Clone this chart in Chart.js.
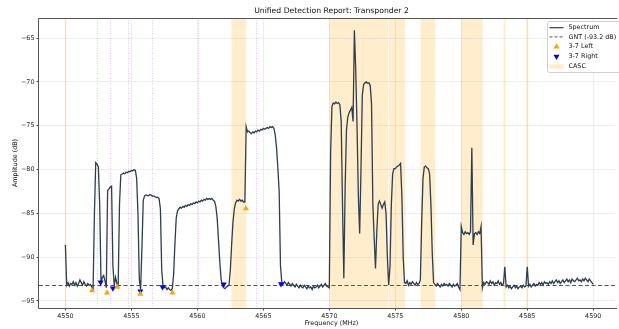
<!DOCTYPE html>
<html>
<head>
<meta charset="utf-8">
<script src="https://cdn.jsdelivr.net/npm/chart.js@4.4.1/dist/chart.umd.min.js"></script>
<style>
  html, body { margin: 0; padding: 0; background: #fff; }
  #wrap { width: 619px; height: 329px; }
</style>
</head>
<body>
<div id="wrap"><canvas id="spectrumChart" width="619" height="329"></canvas></div>
<script>
// spectrum, one sample every 0.1 MHz starting at 4550.0 MHz
const freqStartMHz = 4550.0;
const freqStepMHz = 0.1;
const amplitudeDb = [
  -88.6, -93.2, -92.9, -93.3, -93.0, -93.1, -92.8, -93.2, -92.9, -93.3,
  -93.0, -92.6, -92.9, -93.2, -92.8, -93.1, -93.3, -93.0, -93.2, -93.1,
  -93.4, -93.7, -85.0, -79.2, -79.4, -79.7, -84.0, -92.9, -92.3, -92.1,
  -92.7, -93.5, -82.4, -82.2, -82.0, -81.9, -91.0, -93.2, -92.3, -93.0,
  -93.3, -84.0, -80.6, -80.5, -80.4, -80.5, -80.3, -80.35, -80.2, -80.25,
  -80.1, -80.15, -80.0, -80.1, -81.0, -85.0, -92.5, -93.7, -89.0, -83.5,
  -83.0, -82.9, -82.95, -83.0, -82.85, -82.9, -83.05, -83.0, -83.1, -83.2,
  -83.15, -83.3, -84.5, -91.5, -93.3, -93.5, -93.4, -93.7, -93.5, -93.7,
  -93.8, -93.6, -92.0, -88.5, -85.5, -84.7, -84.5, -84.3, -84.4, -84.2,
  -84.3, -84.1, -84.2, -84.0, -84.1, -83.9, -84.0, -83.8, -83.9, -83.7,
  -83.8, -83.6, -83.7, -83.5, -83.6, -83.4, -83.5, -83.3, -83.4, -83.3,
  -83.4, -83.3, -83.5, -83.6, -84.2, -85.5, -88.0, -90.5, -92.5, -93.3,
  -93.5, -93.6, -93.4, -93.3, -93.2, -91.5, -88.5, -86.0, -84.5, -83.8,
  -83.5, -83.6, -83.4, -83.6, -83.5, -83.7, -83.7, -75.1, -75.7, -75.6,
  -75.8, -75.9, -75.7, -75.8, -75.6, -75.7, -75.5, -75.6, -75.4, -75.5,
  -75.3, -75.4, -75.3, -75.2, -75.3, -75.1, -75.2, -75.1, -75.3, -76.0,
  -77.5, -79.8, -82.5, -91.0, -92.9, -93.1, -92.8, -93.0, -93.2, -92.9,
  -93.1, -93.3, -93.0, -93.2, -93.4, -93.1, -93.3, -93.5, -93.2, -93.4,
  -93.5, -93.2, -93.4, -93.6, -93.3, -93.5, -93.4, -93.7, -93.3, -93.5,
  -93.4, -93.2, -93.5, -93.3, -93.1, -93.4, -93.2, -93.0, -93.3, -93.4,
  -93.5, -78.0, -72.8, -72.4, -72.5, -72.3, -72.45, -72.35, -72.6, -74.5,
  -84.0, -92.4, -82.0, -75.5, -74.0, -73.5, -73.2, -72.9, -74.5, -64.1,
  -68.5, -75.0, -83.0, -87.3, -80.0, -71.5, -70.3, -70.1, -70.0, -70.15,
  -70.1, -70.4, -72.5, -84.0, -87.8, -91.3, -87.0, -84.0, -83.6, -84.0,
  -84.4, -84.0, -83.7, -85.0, -90.0, -93.2, -91.0, -84.0, -80.5, -79.9,
  -79.9, -79.7, -79.6, -79.5, -79.3, -83.0, -90.0, -92.9, -93.0, -92.7,
  -93.2, -92.9, -93.1, -92.8, -93.0, -93.2, -92.9, -93.1, -93.0, -92.6,
  -86.0, -81.0, -79.7, -79.6, -79.8, -79.9, -80.5, -84.0, -89.5, -92.9,
  -93.1, -93.3, -93.0, -93.2, -93.4, -93.1, -93.3, -93.0, -93.2, -93.1,
  -93.3, -93.0, -93.2, -93.4, -93.1, -93.3, -93.2, -93.0, -93.4, -93.7,
  -86.5, -87.2, -87.4, -87.1, -87.3, -87.2, -87.4, -87.1, -77.5, -88.6,
  -87.3, -87.2, -87.4, -87.1, -87.3, -86.5, -93.5, -92.9, -93.1, -92.8,
  -92.9, -93.1, -92.7, -93.0, -92.8, -93.2, -92.9, -93.0, -92.7, -93.1,
  -92.9, -93.2, -93.0, -91.1, -93.4, -93.2, -93.5, -93.3, -93.6, -93.4,
  -93.2, -93.5, -93.3, -93.6, -93.4, -93.3, -93.5, -93.2, -93.4, -93.3,
  -91.1, -93.3, -93.1, -93.4, -93.2, -93.0, -93.3, -93.1, -93.2, -92.9,
  -93.1, -92.9, -93.2, -92.8, -93.0, -92.9, -93.1, -92.8, -93.0, -92.7,
  -93.0, -92.8, -92.6, -92.9, -92.7, -93.0, -92.8, -92.6, -92.9, -92.7,
  -92.5, -92.8, -92.6, -92.9, -92.5, -92.7, -92.8, -92.6, -92.4, -92.7,
  -92.6, -92.8, -92.5, -92.7, -92.4, -92.6, -92.8, -92.5, -92.7, -92.9,
  -93.1
];

const gntDb = -93.2;

// 3-7 detections
const leftFreq = [4552.02, 4553.15, 4553.93, 4555.68, 4558.11, 4563.68];
const leftAmp = [-93.8, -94.05, -93.4, -94.2, -94.05, -84.45];
const rightFreq = [4552.67, 4553.6, 4555.68, 4557.36, 4562.0, 4566.34];
const rightAmp = [-92.85, -93.55, -93.9, -93.4, -93.1, -93.05];

// CASC bands
const cascStart = [4549.95, 4562.58, 4569.98, 4574.53, 4576.9, 4579.98, 4583.2, 4584.92];
const cascEnd = [4550.07, 4563.71, 4574.47, 4575.74, 4578.02, 4581.62, 4583.36, 4585.08];

// dotted edge markers
const edgeFreq = [4552.42, 4553.40, 4554.78, 4556.56, 4560.07, 4564.43];

const xTickValues = [4550, 4555, 4560, 4565, 4570, 4575, 4580, 4585, 4590];
const yTickValues = [-95, -90, -85, -80, -75, -70, -65];

const spectrumPoints = amplitudeDb.map((a, i) => ({ x: freqStartMHz + i * freqStepMHz, y: a }));
const leftPoints = leftFreq.map((f, i) => ({ x: f, y: leftAmp[i] }));
const rightPoints = rightFreq.map((f, i) => ({ x: f, y: rightAmp[i] }));

const FONT = "'DejaVu Sans', sans-serif";
Chart.defaults.font.family = FONT;
Chart.defaults.font.size = 6.4;
Chart.defaults.color = '#222';

function triangle(ctx, x, y, r, down) {
  const s = down ? -1 : 1;
  ctx.beginPath();
  ctx.moveTo(x, y - s * r);
  ctx.lineTo(x - r * 0.866, y + s * r * 0.5);
  ctx.lineTo(x + r * 0.866, y + s * r * 0.5);
  ctx.closePath();
  ctx.fill();
}

const overlay = {
  id: 'overlay',
  beforeDraw(chart) {
    const { ctx, chartArea: a, scales: { x } } = chart;
    ctx.save();
    ctx.beginPath();
    ctx.rect(a.left, a.top, a.right - a.left, a.bottom - a.top);
    ctx.clip();
    ctx.fillStyle = 'rgba(255, 165, 0, 0.2)';
    cascStart.forEach((s, i) => {
      const x0 = x.getPixelForValue(s);
      const x1 = x.getPixelForValue(cascEnd[i]);
      ctx.fillRect(x0, a.top, x1 - x0, a.bottom - a.top);
    });
    ctx.restore();
  },
  beforeDatasetsDraw(chart) {
    const { ctx, chartArea: a, scales: { x, y } } = chart;
    ctx.save();
    ctx.beginPath();
    ctx.rect(a.left, a.top, a.right - a.left, a.bottom - a.top);
    ctx.clip();
    ctx.strokeStyle = 'rgba(170, 60, 180, 0.35)';
    ctx.lineWidth = 0.8;
    ctx.setLineDash([1, 1.5]);
    edgeFreq.forEach(f => {
      const px = Math.round(x.getPixelForValue(f)) + 0.5;
      ctx.beginPath();
      ctx.moveTo(px, a.top);
      ctx.lineTo(px, a.bottom);
      ctx.stroke();
    });
    ctx.strokeStyle = '#555';
    ctx.lineWidth = 1;
    ctx.setLineDash([4, 2.5]);
    const gy = Math.round(y.getPixelForValue(gntDb)) + 0.5;
    ctx.beginPath();
    ctx.moveTo(a.left, gy);
    ctx.lineTo(a.right, gy);
    ctx.stroke();
    ctx.restore();
  },
  afterDraw(chart) {
    const { ctx, chartArea: a } = chart;
    ctx.save();
    // frame (right side falls outside the picture)
    ctx.strokeStyle = '#555';
    ctx.lineWidth = 1;
    const l = Math.round(a.left) - 0.5, t = Math.round(a.top) + 0.5, b = Math.round(a.bottom) + 0.5;
    ctx.beginPath();
    ctx.moveTo(a.right + 2, t);
    ctx.lineTo(l, t);
    ctx.lineTo(l, b);
    ctx.lineTo(a.right + 2, b);
    ctx.stroke();

    // titles
    ctx.fillStyle = '#111';
    ctx.textAlign = 'center';
    ctx.textBaseline = 'middle';
    ctx.font = "7.7px " + FONT;
    ctx.fillText('Unified Detection Report: Transponder 2', 331.5, 10.6);
    ctx.font = "6.4px " + FONT;
    ctx.fillText('Frequency (MHz)', 331.5, 323.5);
    ctx.save();
    ctx.translate(15, 163);
    ctx.rotate(-Math.PI / 2);
    ctx.fillText('Amplitude (dB)', 0, 0);
    ctx.restore();

    // legend (its right side is cut by the picture edge)
    ctx.fillStyle = 'rgba(255,255,255,0.85)';
    ctx.strokeStyle = '#cfcfcf';
    ctx.lineWidth = 1;
    ctx.beginPath();
    ctx.moveTo(630, 21.5);
    ctx.lineTo(549.5, 21.5);
    ctx.arcTo(547.5, 21.5, 547.5, 23.5, 2);
    ctx.lineTo(547.5, 70.5);
    ctx.arcTo(547.5, 72.5, 549.5, 72.5, 2);
    ctx.lineTo(630, 72.5);
    ctx.fill();
    ctx.stroke();
    const rows = [27.7, 36.9, 46.7, 56.5, 66.3];
    ctx.strokeStyle = '#2c3e50';
    ctx.lineWidth = 1.2;
    ctx.beginPath(); ctx.moveTo(549.5, rows[0]); ctx.lineTo(563.5, rows[0]); ctx.stroke();
    ctx.strokeStyle = '#555';
    ctx.lineWidth = 1;
    ctx.setLineDash([3, 2]);
    ctx.beginPath(); ctx.moveTo(549.5, rows[1]); ctx.lineTo(563.5, rows[1]); ctx.stroke();
    ctx.setLineDash([]);
    ctx.fillStyle = '#FFA500';
    triangle(ctx, 556.5, rows[2], 3.5, false);
    ctx.fillStyle = '#0000FF';
    triangle(ctx, 556.5, rows[3], 3.5, true);
    ctx.fillStyle = 'rgba(255, 165, 0, 0.2)';
    ctx.fillRect(549.5, 64.2, 14, 4.6);
    ctx.fillStyle = '#111';
    ctx.textAlign = 'left';
    ctx.font = "6.4px " + FONT;
    ['Spectrum', 'GNT (-93.2 dB)', '3-7 Left', '3-7 Right', 'CASC'].forEach((txt, i) => {
      ctx.fillText(txt, 568.5, rows[i]);
    });
    ctx.restore();
  }
};

new Chart(document.getElementById('spectrumChart'), {
  type: 'line',
  data: {
    datasets: [
      {
        label: '3-7 Left',
        data: leftPoints,
        showLine: false,
        pointStyle: 'triangle',
        pointRadius: 3.5,
        pointBorderWidth: 0,
        pointBackgroundColor: '#FFA500',
        order: 0
      },
      {
        label: '3-7 Right',
        data: rightPoints,
        showLine: false,
        pointStyle: 'triangle',
        pointRotation: 180,
        pointRadius: 3.5,
        pointBorderWidth: 0,
        pointBackgroundColor: '#0000FF',
        order: 0
      },
      {
        label: 'Spectrum',
        data: spectrumPoints,
        borderColor: '#2c3e50',
        borderWidth: 1.3,
        pointRadius: 0,
        tension: 0,
        order: 1
      }
    ]
  },
  options: {
    responsive: false,
    animation: false,
    devicePixelRatio: 1,
    layout: { padding: { top: 18, left: 0, right: 0, bottom: 0 } },
    plugins: {
      legend: { display: false },
      tooltip: { enabled: false },
      title: { display: false }
    },
    scales: {
      x: {
        type: 'linear',
        min: 4548.0,
        max: 4591.65,
        afterBuildTicks: s => { s.ticks = xTickValues.map(v => ({ value: v })); },
        afterFit: s => { s.height = 21; },
        ticks: { callback: v => String(v), padding: 2.5, maxRotation: 0, color: '#222' },
        grid: { color: 'rgba(176,176,176,0.22)', tickColor: '#444', tickLength: 2.5 },
        border: { display: false }
      },
      y: {
        min: -95.8,
        max: -62.7,
        afterBuildTicks: s => { s.ticks = yTickValues.map(v => ({ value: v })); },
        afterFit: s => { s.width = 39; },
        ticks: { callback: v => '\u2212' + Math.abs(v), padding: 2, color: '#222' },
        grid: { color: 'rgba(176,176,176,0.22)', tickColor: '#444', tickLength: 2.5 },
        border: { display: false }
      }
    }
  },
  plugins: [overlay]
});
</script>
</body>
</html>
